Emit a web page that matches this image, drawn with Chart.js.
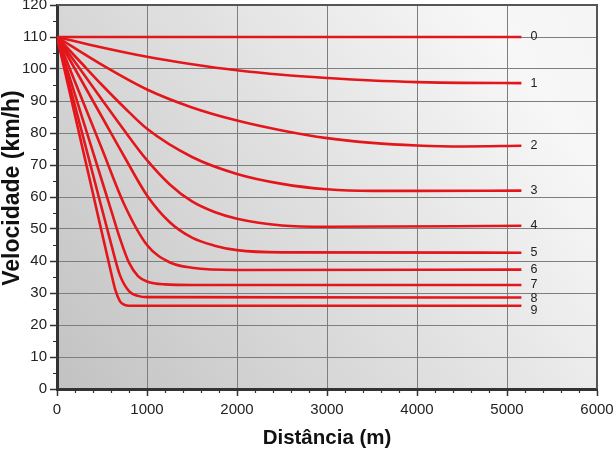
<!DOCTYPE html>
<html>
<head>
<meta charset="utf-8">
<script src="https://cdn.jsdelivr.net/npm/chart.js@4.4.1/dist/chart.umd.min.js"></script>
<style>
  html, body { margin: 0; padding: 0; background: #fff; }
  #wrap { width: 613px; height: 451px; }
</style>
</head>
<body>
<div id="wrap"><canvas id="chart" width="613" height="451"></canvas></div>
<script>
// Tick values
const xTicks = [0, 1000, 2000, 3000, 4000, 5000, 6000];
const yTicks = [0, 10, 20, 30, 40, 50, 60, 70, 80, 90, 100, 110, 120];

// Curve labels (shown at the right end of each line)
const curveNames = ["0", "1", "2", "3", "4", "5", "6", "7", "8", "9"];

// Distance (m) sample points for each curve, with speed (km/h)
const c0x = [0, 5160];
const c0y = [110, 110];

const c1x = [0, 500, 1000, 1500, 2000, 2500, 3000, 3500, 4000, 4500, 5160];
const c1y = [110, 106.7, 103.8, 101.5, 99.6, 98.2, 97.2, 96.4, 95.9, 95.65, 95.6];

const c2x = [0, 500, 1000, 1500, 2000, 2500, 3000, 3500, 4000, 4500, 5160];
const c2y = [110, 101.3, 93.6, 88.0, 83.9, 80.8, 78.4, 76.9, 76.1, 75.8, 76.0];

const c3x = [0, 250, 500, 750, 1000, 1500, 2000, 2500, 3000, 3500, 4000, 5160];
const c3y = [110, 102.5, 95.0, 87.9, 81.3, 72.5, 67.2, 64.1, 62.4, 61.9, 61.9, 62];

const c4x = [0, 250, 500, 750, 1000, 1250, 1500, 1750, 2000, 2500, 3000, 5160];
const c4y = [110, 100.2, 90.4, 80.7, 71.5, 64.0, 58.6, 55.3, 53.2, 51.1, 50.7, 51];

const c5x = [0, 250, 500, 750, 1000, 1250, 1500, 1750, 2000, 2500, 5160];
const c5y = [110, 97.5, 85.0, 72.5, 60.5, 52.2, 47.3, 44.8, 43.4, 42.7, 42.6];

const c6x = [0, 250, 500, 750, 1000, 1250, 1500, 2000, 5160];
const c6y = [110, 92.5, 75.0, 57.5, 45.0, 39.6, 37.9, 37.2, 37.3];

const c7x = [0, 200, 400, 600, 700, 800, 900, 1000, 1200, 1500, 5160];
const c7y = [110, 92, 74, 56, 47, 39.5, 35.3, 33.6, 32.7, 32.5, 32.5];

const c8x = [0, 200, 400, 600, 700, 800, 900, 1000, 5160];
const c8y = [110, 88.5, 67, 45.5, 35.5, 30.6, 29.1, 28.7, 28.6];

const c9x = [0, 200, 400, 600, 650, 700, 750, 800, 5160];
const c9y = [110, 85.5, 61, 36.5, 30.8, 27.4, 26.3, 26, 26];

const curvesX = [c0x, c1x, c2x, c3x, c4x, c5x, c6x, c7x, c8x, c9x];
const curvesY = [c0y, c1y, c2y, c3y, c4y, c5y, c6y, c7y, c8y, c9y];

// small vertical nudges so labels 8 and 9 don't collide
const labelNudge = [0, 0, 0, 0, 0, 0, 0, 0, 1, 5];

const FONT = "'Liberation Sans', Arial, sans-serif";

const datasets = curvesX.map((xs, i) => ({
    label: curveNames[i],
    data: xs.map((x, j) => ({ x: x, y: curvesY[i][j] })),
    borderColor: "#e4161b",
    borderWidth: 2.6,
    pointRadius: 0,
    cubicInterpolationMode: "monotone",
    fill: false
}));

// Plot background: diagonal grey gradient
const bgPlugin = {
    id: "bg",
    beforeDraw(chart) {
        const { ctx, chartArea: a } = chart;
        const g = ctx.createLinearGradient(a.left, a.bottom, a.right, a.top);
        g.addColorStop(0, "#c2c2c2");
        g.addColorStop(0.55, "#e4e4e4");
        g.addColorStop(0.85, "#f7f7f7");
        g.addColorStop(1, "#f5f5f5");
        ctx.save();
        ctx.fillStyle = g;
        ctx.fillRect(a.left, a.top, a.right - a.left, a.bottom - a.top);
        ctx.restore();
    }
};

// Minor ticks, frame, y title and curve labels
const extrasPlugin = {
    id: "extras",
    afterDraw(chart) {
        const { ctx, chartArea: a } = chart;
        const xs = chart.scales.x, ys = chart.scales.y;
        ctx.save();
        // top/right frame
        ctx.strokeStyle = "#555";
        ctx.lineWidth = 2;
        ctx.beginPath();
        ctx.moveTo(a.left, a.top);
        ctx.lineTo(a.right, a.top);
        ctx.lineTo(a.right, a.bottom);
        ctx.stroke();

        // minor ticks
        ctx.strokeStyle = "#333";
        ctx.lineWidth = 1.2;
        ctx.beginPath();
        for (let v = 200; v < 6000; v += 200) {
            if (v % 1000 === 0) continue;
            const px = Math.round(xs.getPixelForValue(v)) + 0.5;
            ctx.moveTo(px, a.bottom);
            ctx.lineTo(px, a.bottom + 4);
        }
        for (let v = 5; v < 120; v += 10) {
            const py = Math.round(ys.getPixelForValue(v)) + 0.5;
            ctx.moveTo(a.left, py);
            ctx.lineTo(a.left - 4, py);
        }
        ctx.stroke();

        // y axis title (a bit above the plot centre, as in the original)
        ctx.save();
        ctx.translate(13, 188);
        ctx.rotate(-Math.PI / 2);
        ctx.fillStyle = "#111";
        ctx.font = "bold 23px " + FONT;
        ctx.textAlign = "center";
        ctx.textBaseline = "middle";
        ctx.fillText("Velocidade (km/h)", 0, 0);
        ctx.restore();

        // curve labels
        ctx.fillStyle = "#222";
        ctx.font = "12.5px " + FONT;
        ctx.textBaseline = "middle";
        ctx.textAlign = "left";
        chart.data.datasets.forEach((ds, i) => {
            const pts = chart.getDatasetMeta(i).data;
            const p = pts[pts.length - 1];
            ctx.fillText(ds.label, p.x + 9, p.y + labelNudge[i]);
        });
        ctx.restore();
    }
};

new Chart(document.getElementById("chart"), {
    type: "line",
    data: { datasets },
    options: {
        responsive: false,
        animation: false,
        layout: { padding: { top: 5, right: 16, left: 0, bottom: 0 } },
        plugins: { legend: { display: false }, tooltip: { enabled: false } },
        scales: {
            x: {
                type: "linear",
                min: 0,
                max: 6000,
                afterBuildTicks(s) { s.ticks = xTicks.map(v => ({ value: v })); },
                afterFit(s) { s.height = 62; s.paddingLeft = 0; s.paddingRight = 0; },
                grid: { color: "#7e7e7e", lineWidth: 1, tickLength: 7, tickColor: "#333", tickWidth: 1.5 },
                border: { color: "#333", width: 3 },
                ticks: { color: "#222", font: { family: FONT, size: 15 }, padding: 5, maxRotation: 0,
                         callback: v => String(v) },
                title: { display: true, text: "Distância (m)", color: "#111",
                         font: { family: FONT, size: 20.5, weight: "bold" }, padding: { top: 0, bottom: 0 } }
            },
            y: {
                type: "linear",
                min: 0,
                max: 120,
                afterBuildTicks(s) { s.ticks = yTicks.map(v => ({ value: v })); },
                afterFit(s) { s.width = 57; s.paddingTop = 0; s.paddingBottom = 0; },
                grid: { color: "#7e7e7e", lineWidth: 1, tickLength: 7, tickColor: "#333", tickWidth: 1.5 },
                border: { color: "#333", width: 3 },
                ticks: { color: "#222", font: { family: FONT, size: 15 }, padding: 3,
                         callback: v => String(v) },
                title: { display: false }
            }
        }
    },
    plugins: [bgPlugin, extrasPlugin]
});
</script>
</body>
</html>
